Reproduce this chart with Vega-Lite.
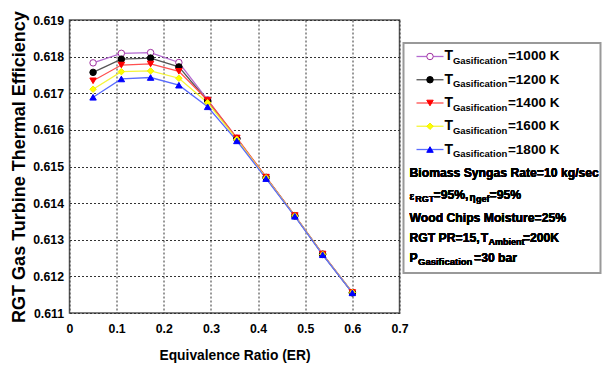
{
  "$schema": "https://vega.github.io/schema/vega-lite/v6.json",
  "padding": {"left": 9.5, "top": 9, "right": 0, "bottom": 0},
  "bounds": "flush",
  "spacing": 4,
  "config": {
    "font": "Liberation Sans, Arial, sans-serif",
    "axis": {
      "labelFont": "Liberation Sans, Arial, sans-serif",
      "labelFontWeight": "bold", "labelFontSize": 12.3, "labelColor": "#000",
      "titleColor": "#000", "titleFontWeight": "bold", "titleFont": "Liberation Sans, Arial, sans-serif",
      "grid": true, "gridDash": [2, 2], "gridColor": "#333", "gridOpacity": 1, "gridWidth": 1,
      "domain": false, "ticks": false, "tickSize": 0
    },
    "text": {"font": "Liberation Sans, Arial, sans-serif", "fontWeight": "bold", "color": "#000"}
  },
  "hconcat": [
    {
      "width": 330, "height": 293,
      "view": {"stroke": "#555", "strokeWidth": 1.5},
      "data": {"values": [
        {"T": "1000 K", "er": 0.05, "eff": 0.61783}, {"T": "1000 K", "er": 0.11, "eff": 0.61809}, {"T": "1000 K", "er": 0.172, "eff": 0.61811}, {"T": "1000 K", "er": 0.232, "eff": 0.61784}, {"T": "1000 K", "er": 0.293, "eff": 0.61682}, {"T": "1000 K", "er": 0.355, "eff": 0.61577}, {"T": "1000 K", "er": 0.417, "eff": 0.6147}, {"T": "1000 K", "er": 0.478, "eff": 0.61366}, {"T": "1000 K", "er": 0.537, "eff": 0.61261}, {"T": "1000 K", "er": 0.6, "eff": 0.61156},
        {"T": "1200 K", "er": 0.05, "eff": 0.61757}, {"T": "1200 K", "er": 0.11, "eff": 0.61793}, {"T": "1200 K", "er": 0.172, "eff": 0.61796}, {"T": "1200 K", "er": 0.232, "eff": 0.61772}, {"T": "1200 K", "er": 0.293, "eff": 0.61679}, {"T": "1200 K", "er": 0.355, "eff": 0.61576}, {"T": "1200 K", "er": 0.417, "eff": 0.6147}, {"T": "1200 K", "er": 0.478, "eff": 0.61365}, {"T": "1200 K", "er": 0.537, "eff": 0.6126}, {"T": "1200 K", "er": 0.6, "eff": 0.61155},
        {"T": "1400 K", "er": 0.05, "eff": 0.61734}, {"T": "1400 K", "er": 0.11, "eff": 0.61777}, {"T": "1400 K", "er": 0.172, "eff": 0.6178}, {"T": "1400 K", "er": 0.232, "eff": 0.6176}, {"T": "1400 K", "er": 0.293, "eff": 0.61681}, {"T": "1400 K", "er": 0.355, "eff": 0.61578}, {"T": "1400 K", "er": 0.417, "eff": 0.61471}, {"T": "1400 K", "er": 0.478, "eff": 0.61366}, {"T": "1400 K", "er": 0.537, "eff": 0.61261}, {"T": "1400 K", "er": 0.6, "eff": 0.61156},
        {"T": "1600 K", "er": 0.05, "eff": 0.61711}, {"T": "1600 K", "er": 0.11, "eff": 0.61759}, {"T": "1600 K", "er": 0.172, "eff": 0.61761}, {"T": "1600 K", "er": 0.232, "eff": 0.61741}, {"T": "1600 K", "er": 0.293, "eff": 0.61674}, {"T": "1600 K", "er": 0.355, "eff": 0.61574}, {"T": "1600 K", "er": 0.417, "eff": 0.61469}, {"T": "1600 K", "er": 0.478, "eff": 0.61365}, {"T": "1600 K", "er": 0.537, "eff": 0.6126}, {"T": "1600 K", "er": 0.6, "eff": 0.61156},
        {"T": "1800 K", "er": 0.05, "eff": 0.61689}, {"T": "1800 K", "er": 0.11, "eff": 0.61739}, {"T": "1800 K", "er": 0.172, "eff": 0.61743}, {"T": "1800 K", "er": 0.232, "eff": 0.61722}, {"T": "1800 K", "er": 0.293, "eff": 0.61663}, {"T": "1800 K", "er": 0.355, "eff": 0.6157}, {"T": "1800 K", "er": 0.417, "eff": 0.61467}, {"T": "1800 K", "er": 0.478, "eff": 0.61364}, {"T": "1800 K", "er": 0.537, "eff": 0.61259}, {"T": "1800 K", "er": 0.6, "eff": 0.61155}
      ]},
      "encoding": {
        "x": {"field": "er", "type": "quantitative",
          "scale": {"domain": [0, 0.7], "nice": false, "zero": false},
          "axis": {"values": [0, 0.1, 0.2, 0.3, 0.4, 0.5, 0.6, 0.7], "labelExpr": "datum.value == 0 ? '0' : format(datum.value, '.1f')",
            "title": "Equivalence Ratio (ER)", "labelPadding": 9, "titlePadding": 14, "titleFontSize": 13.8, "labelFlush": false}},
        "y": {"field": "eff", "type": "quantitative",
          "scale": {"domain": [0.611, 0.619], "nice": false, "zero": false},
          "axis": {"values": [0.611, 0.612, 0.613, 0.614, 0.615, 0.616, 0.617, 0.618, 0.619], "format": ".3f",
            "title": "RGT Gas Turbine Thermal Efficiency", "labelPadding": 6, "titlePadding": 4, "titleFontSize": 18, "labelFlush": false}}
      },
      "layer": [
        {"mark": {"type": "line", "strokeWidth": 1.3},
         "encoding": {"color": {"field": "T", "type": "nominal", "legend": null,
           "scale": {"domain": ["1000 K", "1200 K", "1400 K", "1600 K", "1800 K"], "range": ["#b46ad0", "#555555", "#ff5050", "#f5f53a", "#5a6cff"]}}}},
        {"mark": {"type": "point", "filled": true, "opacity": 1, "size": 42, "strokeWidth": 1},
         "encoding": {
           "shape": {"field": "T", "type": "nominal", "legend": null,
             "scale": {"domain": ["1000 K", "1200 K", "1400 K", "1600 K", "1800 K"], "range": ["circle", "circle", "triangle-down", "diamond", "triangle-up"]}},
           "fill": {"field": "T", "type": "nominal", "legend": null,
             "scale": {"domain": ["1000 K", "1200 K", "1400 K", "1600 K", "1800 K"], "range": ["#ffffff", "#000000", "#ff0000", "#ffff00", "#0000ff"]}},
           "stroke": {"field": "T", "type": "nominal", "legend": null,
             "scale": {"domain": ["1000 K", "1200 K", "1400 K", "1600 K", "1800 K"], "range": ["#a030a0", "#000000", "#ff0000", "#f0f000", "#0000ff"]}}}}
      ]
    },
    {
      "bounds": "flush",
      "spacing": 0,
      "vconcat": [
        {"width": 197, "height": 22.5, "view": {"stroke": null},
         "data": {"values": [{}]},
         "mark": {"type": "text"},
         "encoding": {"text": {"value": ""}}},
        {"width": 197, "height": 230,
         "view": {"stroke": "#999", "strokeWidth": 2},
         "data": {"values": [
           {"T": "1000 K", "row": 1, "label": "=1000 K"},
           {"T": "1200 K", "row": 2, "label": "=1200 K"},
           {"T": "1400 K", "row": 3, "label": "=1400 K"},
           {"T": "1600 K", "row": 4, "label": "=1600 K"},
           {"T": "1800 K", "row": 5, "label": "=1800 K"}
         ]},
         "encoding": {
           "y": {"field": "row", "type": "quantitative", "scale": {"domain": [0.42, 10.31], "reverse": true, "nice": false, "zero": false}, "axis": null}
         },
         "layer": [
           {"mark": {"type": "rule", "strokeWidth": 1.3},
            "encoding": {
              "x": {"datum": 0.066, "type": "quantitative", "scale": {"domain": [0, 1], "nice": false, "zero": false}, "axis": null},
              "x2": {"datum": 0.203},
              "color": {"field": "T", "type": "nominal", "legend": null}}},
           {"mark": {"type": "point", "filled": true, "opacity": 1, "size": 42, "strokeWidth": 1},
            "encoding": {
              "x": {"datum": 0.1345, "type": "quantitative"},
              "shape": {"field": "T", "type": "nominal", "legend": null},
              "fill": {"field": "T", "type": "nominal", "legend": null},
              "stroke": {"field": "T", "type": "nominal", "legend": null}}},
           {"mark": {"type": "text", "align": "left", "baseline": "middle", "fontSize": 14},
            "encoding": {"x": {"datum": 0.208, "type": "quantitative"}, "text": {"value": "T"}}},
           {"mark": {"type": "text", "align": "left", "baseline": "middle", "fontSize": 9.5, "dx": 8.4, "dy": 4.5},
            "encoding": {"x": {"datum": 0.208, "type": "quantitative"}, "text": {"value": "Gasification"}}},
           {"mark": {"type": "text", "align": "left", "baseline": "middle", "fontSize": 13.5, "dx": 63.5},
            "encoding": {"x": {"datum": 0.208, "type": "quantitative"}, "text": {"field": "label"}}},
           {"mark": {"type": "text", "align": "left", "baseline": "middle", "fontSize": 12.2},
            "encoding": {"x": {"datum": 0.0305, "type": "quantitative"}, "y": {"datum": 6.03}, "text": {"value": "Biomass Syngas Rate=10 kg/sec"}}},
           {"mark": {"type": "text", "align": "left", "baseline": "middle", "fontSize": 10, "dy": 2.5},
            "encoding": {"x": {"datum": 0.0305, "type": "quantitative"}, "y": {"datum": 6.935}, "text": {"value": "ε"}}},
           {"mark": {"type": "text", "align": "left", "baseline": "middle", "fontSize": 9, "dx": 5.7, "dy": 4},
            "encoding": {"x": {"datum": 0.0305, "type": "quantitative"}, "y": {"datum": 6.935}, "text": {"value": "RGT"}}},
           {"mark": {"type": "text", "align": "left", "baseline": "middle", "fontSize": 12.2, "dx": 24},
            "encoding": {"x": {"datum": 0.0305, "type": "quantitative"}, "y": {"datum": 6.935}, "text": {"value": "=95%,"}}},
           {"mark": {"type": "text", "align": "left", "baseline": "middle", "fontSize": 10, "dx": 60, "dy": 3},
            "encoding": {"x": {"datum": 0.0305, "type": "quantitative"}, "y": {"datum": 6.935}, "text": {"value": "η"}}},
           {"mark": {"type": "text", "align": "left", "baseline": "middle", "fontSize": 9, "dx": 66.5, "dy": 4},
            "encoding": {"x": {"datum": 0.0305, "type": "quantitative"}, "y": {"datum": 6.935}, "text": {"value": "gef"}}},
           {"mark": {"type": "text", "align": "left", "baseline": "middle", "fontSize": 12.2, "dx": 80},
            "encoding": {"x": {"datum": 0.0305, "type": "quantitative"}, "y": {"datum": 6.935}, "text": {"value": "=95%"}}},
           {"mark": {"type": "text", "align": "left", "baseline": "middle", "fontSize": 12.2},
            "encoding": {"x": {"datum": 0.0305, "type": "quantitative"}, "y": {"datum": 7.925}, "text": {"value": "Wood Chips Moisture=25%"}}},
           {"mark": {"type": "text", "align": "left", "baseline": "middle", "fontSize": 12.2},
            "encoding": {"x": {"datum": 0.0305, "type": "quantitative"}, "y": {"datum": 8.785}, "text": {"value": "RGT PR=15,"}}},
           {"mark": {"type": "text", "align": "left", "baseline": "middle", "fontSize": 12.2, "dx": 71.3},
            "encoding": {"x": {"datum": 0.0305, "type": "quantitative"}, "y": {"datum": 8.785}, "text": {"value": "T"}}},
           {"mark": {"type": "text", "align": "left", "baseline": "middle", "fontSize": 9, "dx": 79, "dy": 4.5},
            "encoding": {"x": {"datum": 0.0305, "type": "quantitative"}, "y": {"datum": 8.785}, "text": {"value": "Ambient"}}},
           {"mark": {"type": "text", "align": "left", "baseline": "middle", "fontSize": 12.2, "dx": 113.4},
            "encoding": {"x": {"datum": 0.0305, "type": "quantitative"}, "y": {"datum": 8.785}, "text": {"value": "=200K"}}},
           {"mark": {"type": "text", "align": "left", "baseline": "middle", "fontSize": 12.2},
            "encoding": {"x": {"datum": 0.0305, "type": "quantitative"}, "y": {"datum": 9.645}, "text": {"value": "P"}}},
           {"mark": {"type": "text", "align": "left", "baseline": "middle", "fontSize": 9.5, "dx": 8.5, "dy": 4.5},
            "encoding": {"x": {"datum": 0.0305, "type": "quantitative"}, "y": {"datum": 9.645}, "text": {"value": "Gasification"}}},
           {"mark": {"type": "text", "align": "left", "baseline": "middle", "fontSize": 12.2, "dx": 64.5},
            "encoding": {"x": {"datum": 0.0305, "type": "quantitative"}, "y": {"datum": 9.645}, "text": {"value": "=30 bar"}}}
         ]
        }
      ]
    }
  ]
}
